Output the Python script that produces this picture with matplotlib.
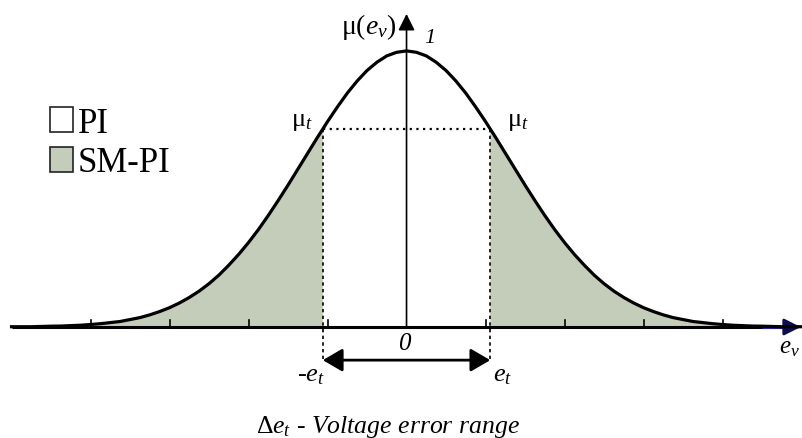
import numpy as np
import matplotlib.pyplot as plt
from matplotlib.patches import Patch

plt.rcParams['font.family'] = ['Liberation Serif', 'DejaVu Serif']
plt.rcParams['mathtext.fontset'] = 'custom'
plt.rcParams['mathtext.rm'] = 'Liberation Serif'
plt.rcParams['mathtext.it'] = 'Liberation Serif:italic'
plt.rcParams['mathtext.bf'] = 'Liberation Serif:bold'

# right half of the membership curve
# (x in tick units, y relative to the peak); the curve is symmetric about 0
e_half = [0.0, 0.125, 0.25, 0.375, 0.5, 0.625, 0.75, 0.875, 1.0, 1.06, 1.125, 1.25,
          1.375, 1.5, 1.625, 1.75, 1.875, 2.0, 2.125, 2.25, 2.375, 2.5, 2.625, 2.75,
          2.875, 3.0, 3.125, 3.25, 3.375, 3.5, 3.625, 3.75, 3.875, 4.0, 4.125, 4.25,
          4.375, 4.5, 4.625, 4.75, 4.875, 5.0]
mu_half = [1.000, 0.995, 0.982, 0.959, 0.929, 0.891, 0.847, 0.797, 0.744, 0.717, 0.688, 0.630,
           0.572, 0.514, 0.458, 0.404, 0.353, 0.306, 0.263, 0.224, 0.188, 0.157, 0.130, 0.107,
           0.087, 0.070, 0.056, 0.044, 0.034, 0.027, 0.020, 0.016, 0.012, 0.009, 0.0065, 0.005,
           0.0035, 0.003, 0.002, 0.001, 0.001, 0.001]
e_t = 1.06
mu_t = 0.717
ticks = [-4, -3, -2, -1, 1, 2, 3, 4]
legend_labels = ['PI', 'SM-PI']

fill_color = '#c3cdb9'

x = np.array([-v for v in e_half[:0:-1]] + e_half)
y = np.array(mu_half[:0:-1] + mu_half)

fig = plt.figure(figsize=(8.02, 4.39), dpi=100)
ax = fig.add_axes([0, 0, 1, 1])
ax.set_xlim(-5.146, 5.006)
ax.set_ylim(-0.402, 1.188)
ax.axis('off')

ax.fill_between(x, 0, y, where=np.abs(x) >= e_t - 1e-9, color=fill_color, lw=0)

# axes drawn by hand
ax.plot([-5.0, 4.55], [0, 0], color='black', lw=2.2, solid_capstyle='butt', zorder=3)
ax.plot([4.5, 4.85], [0, 0], color='#2222a8', lw=2.2, solid_capstyle='butt', zorder=3)
ax.annotate('', xy=(4.99, 0), xytext=(4.8, 0),
            arrowprops=dict(arrowstyle='-|>,head_length=0.5,head_width=0.25', color='#0c0c50',
                            lw=2.0, mutation_scale=20, shrinkA=0, shrinkB=0), zorder=4)
ax.annotate('', xy=(0, 1.134), xytext=(0, 0),
            arrowprops=dict(arrowstyle='-|>,head_length=0.5,head_width=0.25', color='black',
                            lw=1.2, mutation_scale=20, shrinkA=0, shrinkB=0), zorder=3)
for t in ticks:
    ax.plot([t, t], [0, 0.026], color='black', lw=1.2, zorder=3)

ax.plot(x, y, color='black', lw=2.3, solid_joinstyle='round', zorder=4)

# threshold lines
ax.plot([-e_t, e_t], [mu_t, mu_t], color='black', lw=1.6, linestyle=(0, (1, 2)), zorder=2)
for s in (-e_t, e_t):
    ax.plot([s, s], [mu_t, -0.125], color='black', lw=1.2, linestyle=(0, (2, 2)), zorder=2)
ax.annotate('', xy=(-e_t, -0.12), xytext=(e_t, -0.12),
            arrowprops=dict(arrowstyle='<|-|>,head_length=0.6,head_width=0.35', color='black',
                            lw=2.0, mutation_scale=20, shrinkA=0, shrinkB=0))

ax.text(-0.13, 1.09, r'$\mathrm{\mu}(e_v)$', fontsize=20, ha='right', va='center')
ax.text(0.30, 1.05, '1', fontsize=16, fontstyle='italic', ha='center', va='center')
ax.text(-1.18, 0.745, r'$\mathrm{\mu}_t$', fontsize=19, ha='right', va='center')
ax.text(1.27, 0.745, r'$\mathrm{\mu}_t$', fontsize=19, ha='left', va='center')
ax.text(-0.03, -0.058, '0', fontsize=18, fontstyle='italic', ha='center', va='center')
ax.text(-1.21, -0.175, r'-$e_t$', fontsize=19, ha='center', va='center')
ax.text(1.21, -0.175, r'$e_t$', fontsize=19, ha='center', va='center')
ax.text(4.985, -0.072, r'$e_v$', fontsize=18, ha='right', va='center')
ax.text(-0.24, -0.38, r'$\Delta e_t$ - Voltage error range', fontsize=18.5,
        fontstyle='italic', ha='center', va='baseline')

handles = [Patch(facecolor='white', edgecolor='#222222', lw=1.2, label=legend_labels[0]),
           Patch(facecolor=fill_color, edgecolor='#222222', lw=1.2, label=legend_labels[1])]
ax.legend(handles=handles, loc='upper left', bbox_to_anchor=(0.062, 0.755), frameon=False,
          fontsize=25, handlelength=0.66, handleheight=0.75, handletextpad=0.15,
          labelspacing=0.2, borderpad=0, borderaxespad=0)

fig.savefig('out.png', dpi=100)
